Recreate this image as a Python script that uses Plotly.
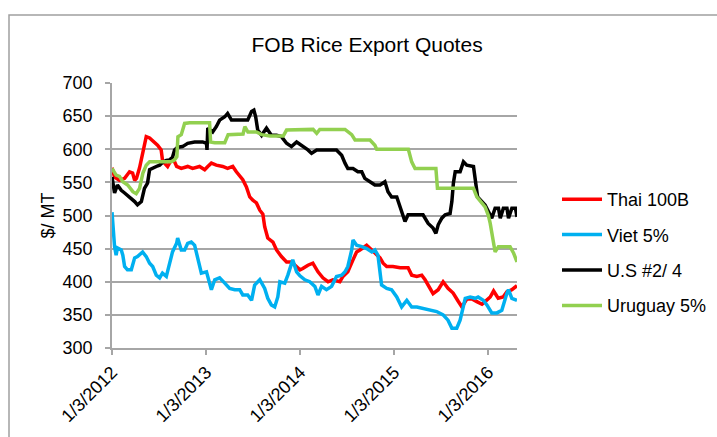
import plotly.graph_objects as go

# values ($/MT)
thai_dates = ["2012-01-03", "2012-01-13", "2012-02-01", "2012-02-21", "2012-03-11", "2012-03-23",
              "2012-03-31", "2012-04-07", "2012-04-19", "2012-05-01", "2012-05-15", "2012-05-28",
              "2012-06-16", "2012-06-28", "2012-07-12", "2012-07-17", "2012-07-25", "2012-08-06",
              "2012-08-20", "2012-09-02", "2012-09-10", "2012-09-28", "2012-10-23", "2012-11-11",
              "2012-12-08", "2012-12-28", "2013-01-09", "2013-01-23", "2013-02-11", "2013-03-08",
              "2013-03-27", "2013-04-16", "2013-04-30", "2013-05-13", "2013-05-25", "2013-06-08",
              "2013-06-21", "2013-07-03", "2013-07-17", "2013-07-30", "2013-08-11", "2013-08-18",
              "2013-08-30", "2013-09-19", "2013-10-03", "2013-10-22", "2013-11-11", "2013-11-30",
              "2013-12-20", "2014-01-02", "2014-01-13", "2014-02-02", "2014-02-21", "2014-03-13",
              "2014-04-01", "2014-04-21", "2014-05-10", "2014-06-06", "2014-06-18", "2014-07-07",
              "2014-07-27", "2014-08-10", "2014-08-23", "2014-09-18", "2014-10-08", "2014-10-27",
              "2014-11-09", "2014-11-21", "2014-12-05", "2014-12-29", "2015-01-26", "2015-02-26",
              "2015-03-12", "2015-04-01", "2015-04-20", "2015-05-03", "2015-05-15", "2015-06-03",
              "2015-06-23", "2015-07-12", "2015-07-31", "2015-08-20", "2015-09-08", "2015-09-23",
              "2015-10-12", "2015-11-01", "2015-11-20", "2015-12-10", "2015-12-22", "2016-01-11",
              "2016-01-24", "2016-02-11", "2016-03-01", "2016-03-16", "2016-04-04", "2016-04-24"]
thai_vals = [572, 558, 553, 556, 566, 564,
             553, 556, 572, 594, 619, 617,
             611, 606, 599, 584, 579, 574,
             584, 581, 574, 571, 574, 571,
             574, 569, 574, 579, 576, 574,
             571, 574, 566, 559, 554, 543,
             528, 523, 519, 508, 502, 483,
             466, 460, 448, 438, 430, 430,
             423, 418, 420, 425, 428, 415,
             406, 400, 403, 400, 408, 415,
             433, 445, 448, 455, 448, 440,
             436, 428, 423, 423, 421, 421,
             410, 408, 410, 403, 395, 382,
             388, 400, 390, 383, 371, 362,
             374, 374, 370, 366, 370, 377,
             386, 375, 377, 385, 388, 394]

viet_dates = ["2012-01-03", "2012-01-13", "2012-01-19", "2012-01-24", "2012-02-08", "2012-02-14",
              "2012-02-21", "2012-03-03", "2012-03-18", "2012-03-31", "2012-04-11", "2012-05-01",
              "2012-05-15", "2012-05-28", "2012-06-09", "2012-06-23", "2012-07-06", "2012-07-17",
              "2012-08-01", "2012-08-14", "2012-08-25", "2012-09-10", "2012-09-14", "2012-09-28",
              "2012-10-11", "2012-10-23", "2012-11-06", "2012-11-19", "2012-12-01", "2012-12-15",
              "2013-01-04", "2013-01-23", "2013-02-05", "2013-02-24", "2013-03-16", "2013-04-04",
              "2013-04-24", "2013-05-13", "2013-05-25", "2013-06-13", "2013-06-28", "2013-07-10",
              "2013-07-30", "2013-08-18", "2013-08-30", "2013-09-13", "2013-09-26", "2013-10-08",
              "2013-10-16", "2013-11-04", "2013-11-16", "2013-12-05", "2013-12-20", "2014-01-02",
              "2014-01-21", "2014-02-09", "2014-03-01", "2014-03-13", "2014-03-27", "2014-04-15",
              "2014-05-05", "2014-05-24", "2014-06-13", "2014-06-26", "2014-07-07", "2014-07-22",
              "2014-07-27", "2014-08-10", "2014-08-30", "2014-09-18", "2014-10-08", "2014-10-20",
              "2014-11-01", "2014-11-15", "2014-12-05", "2014-12-24", "2015-01-13", "2015-02-01",
              "2015-02-21", "2015-03-12", "2015-04-01", "2015-04-25", "2015-05-22", "2015-06-17",
              "2015-07-12", "2015-07-31", "2015-08-15", "2015-09-03", "2015-09-16", "2015-10-06",
              "2015-10-25", "2015-11-14", "2015-11-25", "2015-12-15", "2015-12-29", "2016-01-17",
              "2016-02-06", "2016-02-25", "2016-03-16", "2016-03-22", "2016-04-04", "2016-04-24"]
viet_vals = [505, 453, 440, 451, 448, 440,
             423, 418, 418, 436, 438, 445,
             438, 428, 423, 410, 406, 413,
             408, 430, 445, 458, 466, 448,
             448, 458, 460, 455, 433, 413,
             415, 388, 403, 406, 398, 390,
             388, 388, 380, 380, 372, 395,
             403, 390, 375, 365, 362, 377,
             400, 398, 410, 433, 415, 409,
             403, 400, 393, 380, 393, 388,
             393, 408, 410, 415, 423, 448,
             463, 455, 453, 450, 445, 448,
             440, 395, 390, 388, 377, 362,
             372, 362, 362, 360, 357, 355,
             350, 342, 330, 330, 342, 375,
             377, 375, 377, 372, 365, 353,
             353, 357, 383, 388, 375, 372]

us_dates = ["2012-01-03", "2012-01-13", "2012-01-24", "2012-02-08", "2012-02-21", "2012-03-11",
            "2012-03-31", "2012-04-11", "2012-04-26", "2012-05-08", "2012-05-20", "2012-05-28",
            "2012-06-09", "2012-06-23", "2012-07-06", "2012-07-17", "2012-08-01", "2012-08-14",
            "2012-08-25", "2012-09-02", "2012-09-14", "2012-10-03", "2012-10-23", "2012-11-19",
            "2012-12-20", "2013-01-04", "2013-01-06", "2013-01-09", "2013-01-28", "2013-02-11",
            "2013-02-24", "2013-03-16", "2013-03-27", "2013-04-11", "2013-06-13", "2013-06-28",
            "2013-07-07", "2013-07-14", "2013-07-22", "2013-08-06", "2013-08-25", "2013-09-13",
            "2013-10-03", "2013-10-22", "2013-11-11", "2013-11-30", "2013-12-20", "2014-01-08",
            "2014-02-02", "2014-02-16", "2014-03-08", "2014-05-24", "2014-06-13", "2014-06-26",
            "2014-07-07", "2014-07-27", "2014-08-15", "2014-08-30", "2014-09-11", "2014-10-01",
            "2014-10-20", "2014-11-09", "2014-11-28", "2014-12-10", "2014-12-24", "2015-01-13",
            "2015-01-26", "2015-02-01", "2015-02-14", "2015-02-26", "2015-04-25", "2015-05-15",
            "2015-06-03", "2015-06-14", "2015-06-23", "2015-07-07", "2015-07-20", "2015-08-08",
            "2015-08-15", "2015-08-21", "2015-08-28", "2015-09-16", "2015-09-29", "2015-10-12",
            "2015-11-07", "2015-11-14", "2015-11-23", "2015-12-10", "2015-12-22", "2016-01-04",
            "2016-01-17", "2016-01-30", "2016-02-12", "2016-02-19", "2016-03-02", "2016-03-16",
            "2016-03-22", "2016-04-04", "2016-04-18", "2016-04-24"]
us_vals = [558, 534, 546, 538, 534, 528,
           521, 516, 521, 541, 549, 569,
           572, 574, 576, 580, 583, 584,
           588, 599, 603, 604, 609, 611,
           611, 609, 599, 632, 626, 634,
           644, 649, 654, 644, 644, 657,
           659, 649, 629, 621, 632, 621,
           621, 619, 609, 604, 611, 606,
           599, 594, 599, 599, 591, 579,
           571, 571, 566, 566, 556, 551,
           546, 546, 551, 536, 528, 528,
           513, 503, 491, 501, 501, 488,
           481, 473, 486, 496, 501, 503,
           521, 549, 566, 566, 581, 576,
           574, 554, 528, 521, 516, 506,
           496, 511, 511, 496, 511, 511,
           496, 511, 511, 498]

uru_dates = ["2012-01-03", "2012-01-19", "2012-02-01", "2012-02-14", "2012-03-04", "2012-03-24",
             "2012-04-06", "2012-04-19", "2012-05-02", "2012-05-15", "2012-05-28", "2012-08-20",
             "2012-09-02", "2012-09-11", "2012-09-15", "2012-09-28", "2012-10-11", "2012-10-31",
             "2013-01-16", "2013-01-20", "2013-02-05", "2013-03-16", "2013-03-29", "2013-05-26",
             "2013-06-02", "2013-06-14", "2013-07-17", "2013-08-06", "2013-09-07", "2013-10-29",
             "2013-11-11", "2014-01-02", "2014-02-22", "2014-03-08", "2014-03-20", "2014-06-26",
             "2014-07-22", "2014-08-04", "2014-10-01", "2014-10-20", "2014-10-27", "2015-02-27",
             "2015-03-12", "2015-03-25", "2015-06-14", "2015-06-20", "2015-11-07", "2015-11-20",
             "2015-12-10", "2015-12-22", "2016-01-04", "2016-01-11", "2016-01-22", "2016-01-30",
             "2016-02-12", "2016-03-28", "2016-04-11", "2016-04-24"]
uru_vals = [571, 561, 559, 551, 546, 536,
            533, 541, 564, 576, 581, 581,
            584, 589, 619, 622, 639, 640,
            640, 611, 610, 610, 622, 623,
            634, 626, 626, 622, 620, 620,
            629, 630, 630, 624, 630, 630,
            622, 614, 614, 606, 600, 600,
            581, 571, 571, 541, 541, 528,
            518, 513, 500, 488, 463, 445,
            453, 453, 443, 430]

series = [
    ("Thai 100B", thai_dates, thai_vals, "#ff0000"),
    ("Viet 5%", viet_dates, viet_vals, "#00b0f0"),
    ("U.S #2/ 4", us_dates, us_vals, "#000000"),
    ("Uruguay 5%", uru_dates, uru_vals, "#92d050"),
]

tick_dates = ["2012-01-03", "2013-01-03", "2014-01-03", "2015-01-03", "2016-01-03"]
tick_text = ["1/3/2012", "1/3/2013", "1/3/2014", "1/3/2015", "1/3/2016"]

FONT = "Liberation Sans, Arial, sans-serif"
GRID = "#a6a6a6"

fig = go.Figure()
for i, (name, d, v, c) in enumerate(series):
    fig.add_trace(go.Scatter(x=d, y=v, name=name, mode="lines",
                             line=dict(color=c, width=3.5),
                             legendgroup=str(i)))

fig.update_layout(
    width=717, height=437, autosize=False,
    margin=dict(l=112, r=200, t=83, b=89),
    paper_bgcolor="white", plot_bgcolor="white",
    font=dict(family=FONT, size=18, color="#000000"),
    title=dict(text="FOB Rice Export Quotes", font=dict(size=21, color="#000000"),
               x=0.512, xref="container", xanchor="center",
               y=1 - 45 / 437, yref="container", yanchor="middle"),
    showlegend=True,
    legend=dict(x=557 / 717, xref="container", xanchor="left",
                y=1 - 181 / 437, yref="container", yanchor="top",
                font=dict(size=18), tracegroupgap=9, traceorder="grouped",
                itemwidth=40, bgcolor="rgba(0,0,0,0)"),
    xaxis=dict(type="date", range=["2012-01-03", "2016-04-24"],
               tickvals=tick_dates, ticktext=tick_text, tickangle=-45,
               showgrid=False, showline=True, linecolor=GRID, linewidth=1.5,
               ticks="outside", ticklen=5, tickcolor=GRID, tickwidth=1.5,
               zeroline=False),
    yaxis=dict(range=[300, 700], dtick=50, showgrid=True, gridcolor=GRID, gridwidth=1.5,
               showline=True, linecolor=GRID, linewidth=1.5,
               ticks="outside", ticklen=5, tickcolor=GRID, tickwidth=1.5,
               ticklabelstandoff=9, zeroline=False),
    annotations=[dict(text="$/ MT", textangle=-90, x=(47 - 112) / 405, y=0.50,
                      xanchor="center", yanchor="middle",
                      xref="paper", yref="paper", showarrow=False,
                      font=dict(size=18))],
    shapes=[dict(type="rect", xref="paper", yref="paper",
                 x0=(9 - 112) / 405, x1=(760 - 112) / 405,
                 y0=(348 - 470) / 265, y1=(348 - 15) / 265,
                 line=dict(color="#a0a0a0", width=1.5), layer="below")],
)

fig.write_html("out.html", config={"displayModeBar": False},
               post_script="document.body.style.margin='0px';")
